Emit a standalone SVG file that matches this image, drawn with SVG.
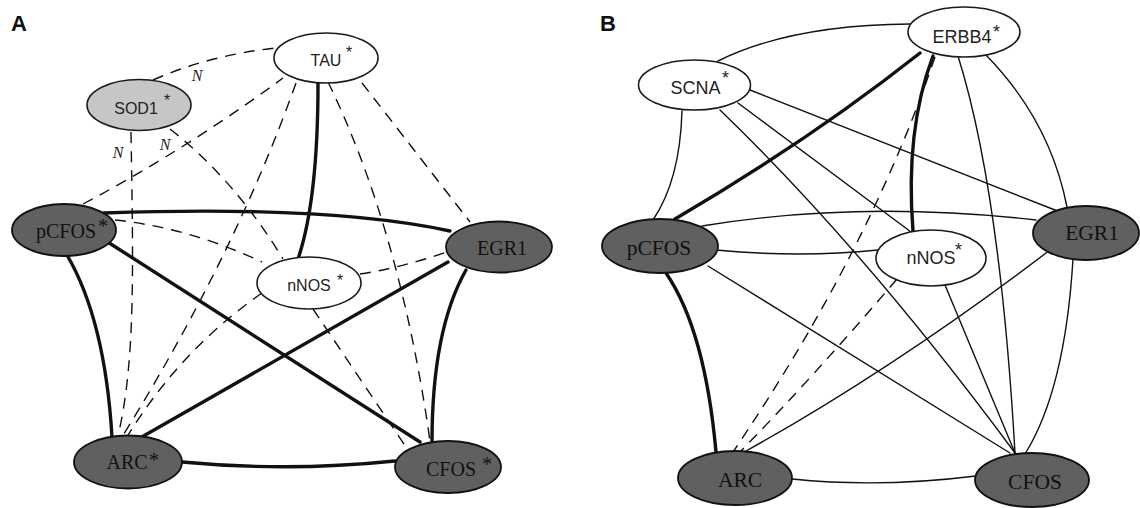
<svg xmlns="http://www.w3.org/2000/svg" width="1140" height="508" viewBox="0 0 1140 508">
<style>
.bg{fill:#ffffff}
.e{fill:none;stroke:#111;stroke-linecap:round}
.thick{stroke-width:3.4}
.thin{stroke-width:1.4}
.dash{stroke-width:1.4;stroke-dasharray:11 8;stroke-linecap:butt}
.nw{fill:#ffffff;stroke:#1a1a1a;stroke-width:1.6}
.ng{fill:#c6c6c6;stroke:#1a1a1a;stroke-width:1.6}
.nd{fill:#606060;stroke:#111;stroke-width:1.8}
.sa{font-family:"Liberation Sans",Arial,sans-serif;font-size:16px;fill:#222;text-anchor:middle}
.sb{font-family:"Liberation Sans",Arial,sans-serif;font-size:18px;fill:#222;text-anchor:middle}
.st{font-family:"Liberation Sans",Arial,sans-serif;fill:#222}
.ra{font-family:"Liberation Serif","Times New Roman",serif;font-size:20px;fill:#111;text-anchor:middle}
.rb{font-family:"Liberation Serif","Times New Roman",serif;font-size:21.5px;fill:#111;text-anchor:middle}
.rs{font-family:"Liberation Serif","Times New Roman",serif;font-size:20px;fill:#111}
.lab{font-family:"Liberation Serif","Times New Roman",serif;font-style:italic;font-size:16px;fill:#222;text-anchor:middle}
.pl{font-family:"Liberation Sans",Arial,sans-serif;font-weight:bold;font-size:22px;fill:#111}
</style>
<rect class="bg" x="0" y="0" width="1140" height="508"/>
<text class="pl" x="11" y="31">A</text>
<text class="pl" x="600" y="31">B</text>

<g id="connectors-A">
  <path class="e thick" d="M318,83 Q318,200 298,259"/>
  <path class="e thick" d="M104,213 Q330,205 450,231"/>
  <path class="e thick" d="M103,239 L420,442"/>
  <path class="e thick" d="M67,255 Q105,320 112,437"/>
  <path class="e thick" d="M448,262 L140,438"/>
  <path class="e thick" d="M466,270 Q432,330 432,442"/>
  <path class="e thick" d="M182,462 Q288,472 395,461"/>
  <path class="e dash" d="M153,80 Q210,55 276,48"/>
  <path class="e dash" d="M170,129 Q235,180 283,259"/>
  <path class="e dash" d="M131,132 C133,260 136,360 118,436"/>
  <path class="e dash" d="M83,204 Q185,150 283,78"/>
  <path class="e dash" d="M115,220 Q190,228 262,262"/>
  <path class="e dash" d="M296,83 Q235,255 122,437"/>
  <path class="e dash" d="M328,82 Q400,230 430,441"/>
  <path class="e dash" d="M362,83 L470,222"/>
  <path class="e dash" d="M360,274 Q400,268 447,252"/>
  <path class="e dash" d="M262,293 Q180,350 127,437"/>
  <path class="e dash" d="M313,309 L408,450"/>
</g>
<g id="edge-labels-A">
  <text class="lab" x="197" y="81">N</text>
  <text class="lab" x="165" y="150">N</text>
  <text class="lab" x="118" y="158">N</text>
</g>

<g id="node-A-TAU">
  <ellipse class="nw" cx="326" cy="58" rx="52" ry="25"/>
  <text class="sa" x="326" y="66">TAU</text>
  <text class="st" x="346" y="58" font-size="16">*</text>
</g>
<g id="node-A-SOD1">
  <ellipse class="ng" cx="139" cy="105" rx="52" ry="25.5"/>
  <text class="sa" x="136" y="114">SOD1</text>
  <text class="st" x="164" y="106" font-size="16">*</text>
</g>
<g id="node-A-pCFOS">
  <ellipse class="nd" cx="64" cy="230" rx="52" ry="26"/>
  <text class="ra" x="66" y="238">pCFOS</text>
  <text class="rs" x="98" y="233">*</text>
</g>
<g id="node-A-EGR1">
  <ellipse class="nd" cx="499" cy="247" rx="53" ry="25.5"/>
  <text class="ra" x="502" y="255">EGR1</text>
</g>
<g id="node-A-nNOS">
  <ellipse class="nw" cx="309" cy="283" rx="52" ry="26"/>
  <text class="sa" x="309" y="291">nNOS</text>
  <text class="st" x="337" y="286" font-size="16">*</text>
</g>
<g id="node-A-ARC">
  <ellipse class="nd" cx="128" cy="462" rx="54" ry="26.5"/>
  <text class="ra" x="127" y="469">ARC</text>
  <text class="rs" x="149" y="467">*</text>
</g>
<g id="node-A-CFOS">
  <ellipse class="nd" cx="448" cy="467" rx="53" ry="26"/>
  <text class="ra" x="451" y="476">CFOS</text>
  <text class="rs" x="482" y="471">*</text>
</g>

<g id="connectors-B">
  <path class="e thin" d="M718,61 Q790,25 910,24"/>
  <path class="e thin" d="M682,111 Q680,180 653,220"/>
  <path class="e thin" d="M750,90 L1055,210"/>
  <path class="e thin" d="M738,103 L911,232"/>
  <path class="e thin" d="M720,110 Q865,250 1015,453"/>
  <path class="e thin" d="M985,54 Q1050,120 1067,207"/>
  <path class="e thin" d="M958,56 Q1000,190 1015,453"/>
  <path class="e thin" d="M702,226 Q860,200 1036,220"/>
  <path class="e thin" d="M716,250 Q800,258 878,250"/>
  <path class="e thin" d="M708,266 L1010,453"/>
  <path class="e thin" d="M945,285 L1015,453"/>
  <path class="e thin" d="M1050,250 Q895,368 746,451"/>
  <path class="e thin" d="M1073,259 Q1065,390 1025,454"/>
  <path class="e thin" d="M792,479 Q880,488 976,476"/>
  <path class="e thick" d="M666,273 Q705,330 716,452"/>
  <path class="e thick" d="M675,219 Q810,140 920,53"/>
  <path class="e thick" d="M933,56 Q905,130 913,231"/>
  <path class="e dash" d="M935,57 Q870,250 733,452"/>
  <path class="e dash" d="M897,279 Q815,375 740,452"/>
</g>

<g id="node-B-ERBB4">
  <ellipse class="nw" cx="964" cy="32" rx="56" ry="25"/>
  <text class="sb" x="962" y="43">ERBB4</text>
  <text class="st" x="993" y="38" font-size="18">*</text>
</g>
<g id="node-B-SCNA">
  <ellipse class="nw" cx="694.5" cy="85" rx="56" ry="25"/>
  <text class="sb" x="695.5" y="94">SCNA</text>
  <text class="st" x="722" y="84" font-size="18">*</text>
</g>
<g id="node-B-pCFOS">
  <ellipse class="nd" cx="660" cy="246" rx="58" ry="27"/>
  <text class="rb" x="659" y="255">pCFOS</text>
</g>
<g id="node-B-EGR1">
  <ellipse class="nd" cx="1086" cy="233" rx="53" ry="27"/>
  <text class="rb" x="1092" y="240">EGR1</text>
</g>
<g id="node-B-nNOS">
  <ellipse class="nw" cx="931" cy="258" rx="55" ry="28"/>
  <text class="sb" x="931" y="264">nNOS</text>
  <text class="st" x="955" y="256" font-size="18">*</text>
</g>
<g id="node-B-ARC">
  <ellipse class="nd" cx="735" cy="478" rx="57" ry="27"/>
  <text class="rb" x="740" y="487">ARC</text>
</g>
<g id="node-B-CFOS">
  <ellipse class="nd" cx="1032" cy="480" rx="57" ry="27"/>
  <text class="rb" x="1035" y="489">CFOS</text>
</g>
</svg>
